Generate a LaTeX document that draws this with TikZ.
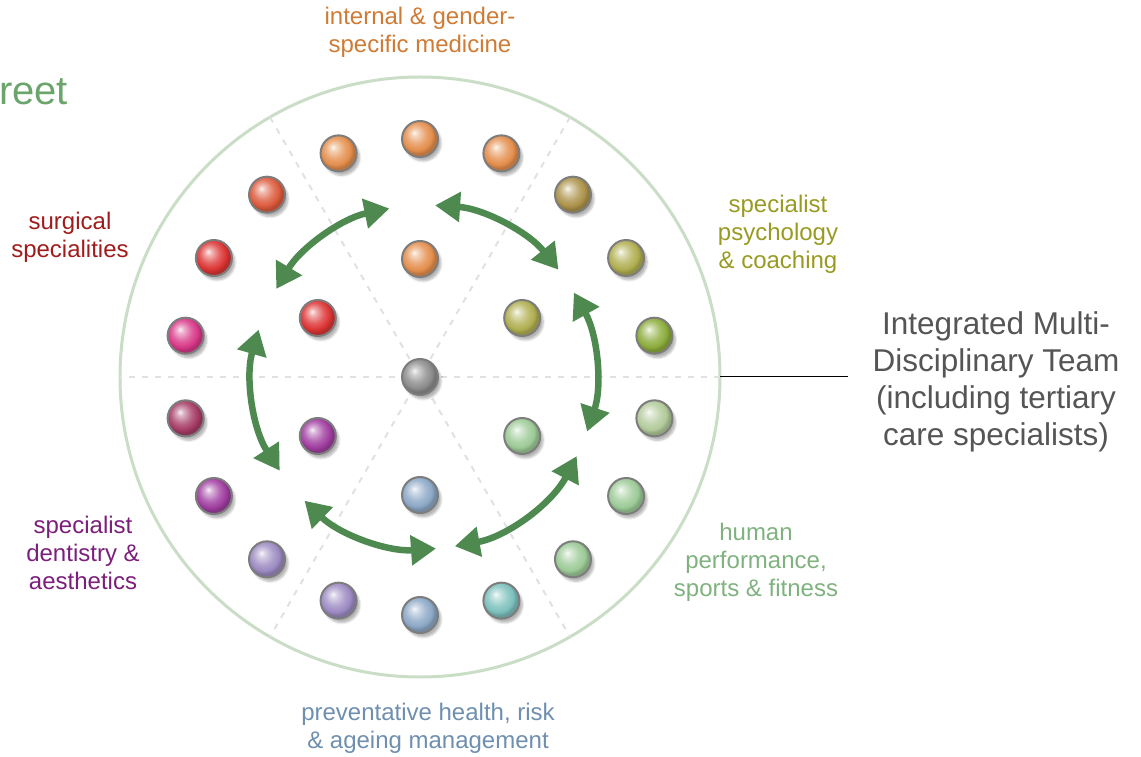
\documentclass[tikz,border=0pt]{standalone}
\usepackage{fontspec}
\setmainfont{Liberation Sans}
\usetikzlibrary{arrows.meta, shadows.blur}
\usepackage{xcolor}
% ball colours
\definecolor{ballorange}{RGB}{228,142,76}
\definecolor{ballkhaki}{RGB}{172,146,74}
\definecolor{ballolive}{RGB}{176,174,80}
\definecolor{ballleaf}{RGB}{140,172,60}
\definecolor{ballpale}{RGB}{178,202,154}
\definecolor{ballgreen}{RGB}{156,202,150}
\definecolor{ballteal}{RGB}{124,192,188}
\definecolor{ballblue}{RGB}{140,168,198}
\definecolor{balllavender}{RGB}{156,138,194}
\definecolor{ballpurple}{RGB}{160,62,160}
\definecolor{ballmaroon}{RGB}{166,60,102}
\definecolor{ballpink}{RGB}{216,56,136}
\definecolor{ballred}{RGB}{220,52,52}
\definecolor{ballcoral}{RGB}{220,90,60}
\definecolor{ballgrey}{RGB}{140,140,140}
\definecolor{ballrim}{RGB}{125,125,125}
% line and text colours
\definecolor{rimgreen}{RGB}{202,221,198}
\definecolor{guidegrey}{RGB}{225,225,225}
\definecolor{arrowgreen}{RGB}{78,138,80}
\definecolor{txtorange}{RGB}{207,123,53}
\definecolor{txtolive}{RGB}{153,154,34}
\definecolor{txtgreen}{RGB}{127,178,127}
\definecolor{txtblue}{RGB}{111,143,175}
\definecolor{txtpurple}{RGB}{123,31,123}
\definecolor{txtred}{RGB}{160,28,28}
\definecolor{txtgrey}{RGB}{85,85,85}
\definecolor{streetgreen}{RGB}{107,165,107}
% glossy sphere shading, recoloured per ball
\colorlet{glosscol}{gray}
\pgfdeclareradialshading[glosscol]{glossball}{\pgfqpoint{-8bp}{9bp}}{color(0bp)=(glosscol!8!white); color(5bp)=(glosscol!40!white); color(14bp)=(glosscol!80!white); color(21bp)=(glosscol); color(25bp)=(glosscol!82!black); color(50bp)=(glosscol!82!black)}
\tikzset{ballnode/.style={circle, minimum size=36pt, inner sep=0pt, draw=ballrim, line width=2pt,
    /utils/exec={\colorlet{glosscol}{#1}}, shading=glossball,
    blur shadow={shadow xshift=3pt, shadow yshift=-4pt, shadow blur steps=6, shadow opacity=30}},
grouplabel/.style={align=center, inner sep=0pt, font=\fontsize{24}{28}\selectfont},
teamlabel/.style={align=center, inner sep=0pt, text=txtgrey, font=\fontsize{31.5}{37}\selectfont},
cyclearrow/.style={arrowgreen, line width=6.5pt, {Triangle[length=25pt, width=29pt]}-{Triangle[length=25pt, width=29pt]}}}

\begin{document}
\begin{tikzpicture}[x=1pt, y=1pt,
                rimline/.style={rimgreen, line width=3pt},
                sectorline/.style={guidegrey, line width=2pt, dash pattern=on 6pt off 7pt}
            ]
                \useasboundingbox (0,0) rectangle (1141,756);
                \coordinate (hub) at (420,379);
                \coordinate (ring) at (424,379);

                % Rim and sector guides
                \draw[rimline] (hub) circle (300pt);
                \foreach \a in {0,60,120} {
\draw[sectorline] ([shift={(\a:300pt)}]hub) -- ([shift={(\a+180:300pt)}]hub);
}

                % Arrows
                \foreach \s/\e in {101.6/149.2, 86.3/38.6, 29.4/-18.5, -27.4/-79.7, -86/-134, -147/-196} {
\draw[cyclearrow] ([shift={(\s:172pt)}]ring) arc[start angle=\s, end angle=\e, radius=172pt];
}

                % Balls
                \node[ballnode=ballgrey] (core) at (hub) {};
                \foreach \a/\c [count=\i] in {90/ballorange, 30/ballolive, -30/ballgreen, -90/ballblue, -150/ballpurple, 150/ballred} {
\node[ballnode=\c] (inner\i) at ([shift={(\a:118pt)}]hub) {};
}
                \foreach \a/\c [count=\i] in {110/ballorange, 90/ballorange, 70/ballorange, 50/ballkhaki, 30/ballolive, 10/ballleaf,
                    -10/ballpale, -30/ballgreen, -50/ballgreen, -70/ballteal, -90/ballblue, -110/balllavender,
                    -130/balllavender, -150/ballpurple, -170/ballmaroon, 170/ballpink, 150/ballred, 130/ballcoral} {
\node[ballnode=\c] (outer\i) at ([shift={(\a:238pt)}]hub) {};
}

                % Group labels
                \node[grouplabel, text=txtorange] (internal) at (420,724) {internal \& gender-\\specific medicine};
                \node[grouplabel, text=txtolive] (psychology) at (778,522) {specialist\\psychology\\\& coaching};
                \node[grouplabel, text=txtgreen] (performance) at (756,194) {human\\performance,\\sports \& fitness};
                \node[grouplabel, text=txtblue] (preventative) at (428,28) {preventative health, risk\\\& ageing management};
                \node[grouplabel, text=txtpurple] (dentistry) at (83,203) {specialist\\dentistry \&\\aesthetics};
                \node[grouplabel, text=txtred] (surgical) at (70,519) {surgical\\specialities};
                \node[anchor=base west, inner sep=0pt, text=streetgreen, font=\fontsize{40}{48}\selectfont] (street) at (-1,651) {reet};

                % Team label
                \node[teamlabel] (team) at (996,374) {Integrated Multi-\\Disciplinary Team\\(including tertiary\\care specialists)};
                \coordinate (rim) at ([shift={(300pt,0pt)}]hub);
                \draw[black, line width=1pt] (rim) -- ([xshift=-24pt]rim -| team.west);
            \end{tikzpicture}
\end{document}
